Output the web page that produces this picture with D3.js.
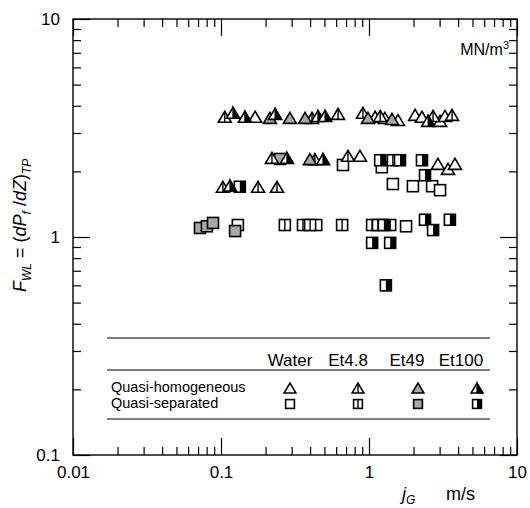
<!DOCTYPE html>
<html><head><meta charset="utf-8">
<script src="https://cdn.jsdelivr.net/npm/d3@7"></script>
<style>body{margin:0;background:#fff} text{font-family:"Liberation Sans",Arial,Helvetica,sans-serif;fill:#000}</style>
</head><body><svg id="c" width="530" height="508"></svg>
<script>
// ---- data ----
const xTickLabels = ["0.01", "0.1", "1", "10"];
const yTickLabels = ["0.1", "1", "10"];
const seriesNames = ["Water", "Et4.8", "Et49", "Et100"];
const regimeNames = ["Quasi-homogeneous", "Quasi-separated"];
const yUnit = "MN/m";
const xUnit = "m/s";

// Quasi-homogeneous (triangles)
const waterTriX = [0.170, 1.10, 1.28, 1.57, 2.05, 2.28, 3.02, 3.26, 0.869, 2.92, 3.42, 3.81];
const waterTriY = [3.52, 3.52, 3.48, 3.40, 3.59, 3.52, 3.37, 3.55, 2.33, 2.14, 2.03, 2.14];
const et48TriX  = [0.106, 0.412, 0.618, 0.910, 1.19, 2.71, 3.64, 0.221, 0.431, 0.721, 0.103, 0.178, 0.239];
const et48TriY  = [3.52, 3.48, 3.63, 3.67, 3.55, 3.55, 3.59, 2.28, 2.25, 2.33, 1.68, 1.68, 1.68];
const et49TriX  = [0.214, 0.292, 0.370, 0.984, 1.43, 0.399];
const et49TriY  = [3.48, 3.48, 3.48, 3.48, 3.44, 2.25];
const et100TriX = [0.1205, 0.145, 0.232, 0.452, 0.505, 2.51, 0.279, 0.489, 0.115];
const et100TriY = [3.67, 3.52, 3.63, 3.55, 3.55, 3.37, 2.28, 2.25, 1.70];

// Quasi-separated (squares)
const waterSqX = [0.130, 0.44, 1.78, 0.667, 1.22, 1.45, 1.98, 2.67, 3.02];
const waterSqY = [1.135, 1.135, 1.12, 2.14, 2.09, 1.75, 1.71, 1.71, 1.64];
const et48SqX  = [0.270, 0.358, 0.40, 0.658, 1.05, 1.15, 1.39, 1.45];
const et48SqY  = [1.135, 1.135, 1.135, 1.135, 1.135, 1.135, 1.135, 2.25];
const et49SqX  = [0.0721, 0.0803, 0.0883, 0.1245, 0.251];
const et49SqY  = [1.10, 1.12, 1.16, 1.065, 2.28];
const et100SqX = [1.26, 2.39, 2.71, 3.52, 1.05, 1.39, 1.30, 1.19, 1.62, 2.28, 2.39, 0.134];
const et100SqY = [1.135, 1.20, 1.076, 1.20, 0.94, 0.94, 0.60, 2.25, 2.25, 2.25, 1.92, 1.70];

// ---- layout ----
const L = 73, R = 517, T = 19, B = 455;
const svg = d3.select("#c");
const x = d3.scaleLog().domain([0.01, 10]).range([L, R]);
const y = d3.scaleLog().domain([0.1, 10]).range([B, T]);

const majX = xTickLabels.map(Number), majY = yTickLabels.map(Number);
const minX = x.ticks().filter(v => !majX.some(m => Math.abs(m - v) / m < 1e-6));
const minY = y.ticks().filter(v => !majY.some(m => Math.abs(m - v) / m < 1e-6));

function styleAxis(g) {
  g.select(".domain").remove();
  g.selectAll("line").attr("stroke", "#000").attr("stroke-width", 1.2);
  g.selectAll("text").style("font-size", "17px").attr("fill", "#000");
}
const MAJ = 17, MIN = 8;
svg.append("g").attr("transform", `translate(0,${B})`)
  .call(d3.axisBottom(x).tickValues(minX).tickSize(-MIN).tickFormat("")).call(styleAxis);
svg.append("g").attr("transform", `translate(0,${B})`)
  .call(d3.axisBottom(x).tickValues(majX).tickSize(-MAJ).tickPadding(11).tickFormat((d, i) => xTickLabels[i])).call(styleAxis);
svg.append("g").attr("transform", `translate(0,${T})`)
  .call(d3.axisTop(x).tickValues(minX).tickSize(-MIN).tickFormat("")).call(styleAxis);
svg.append("g").attr("transform", `translate(0,${T})`)
  .call(d3.axisTop(x).tickValues(majX).tickSize(-MAJ).tickFormat("")).call(styleAxis);
svg.append("g").attr("transform", `translate(${L},0)`)
  .call(d3.axisLeft(y).tickValues(minY).tickSize(-MIN).tickFormat("")).call(styleAxis);
svg.append("g").attr("transform", `translate(${L},0)`)
  .call(d3.axisLeft(y).tickValues(majY).tickSize(-MAJ).tickPadding(13).tickFormat((d, i) => yTickLabels[i])).call(styleAxis);
svg.append("g").attr("transform", `translate(${R},0)`)
  .call(d3.axisRight(y).tickValues(minY).tickSize(-MIN).tickFormat("")).call(styleAxis);
svg.append("g").attr("transform", `translate(${R},0)`)
  .call(d3.axisRight(y).tickValues(majY).tickSize(-MAJ).tickFormat("")).call(styleAxis);

svg.append("rect").attr("x", L).attr("y", T).attr("width", R - L).attr("height", B - T)
  .attr("fill", "none").attr("stroke", "#000").attr("stroke-width", 1.4);

// ---- marker drawing ----
const GRAY = "#a8a8a8";
function triangle(g, kind, s) {
  const w = 13 * s, h = 11 * s, top = -h * 0.6, bot = h * 0.4;
  const pts = `0,${top} ${w / 2},${bot} ${-w / 2},${bot}`;
  g.append("polygon").attr("points", pts)
    .attr("fill", kind === 2 ? GRAY : "#fff").attr("stroke", "#000").attr("stroke-width", 1.6);
  if (kind === 1) g.append("line").attr("x1", 0).attr("x2", 0).attr("y1", top).attr("y2", bot).attr("stroke", "#000").attr("stroke-width", 1.4);
  if (kind === 3) g.append("polygon").attr("points", `0,${top} ${w / 2},${bot} 0,${bot}`).attr("fill", "#000").attr("stroke", "#000").attr("stroke-width", 1.2);
}
function square(g, kind, s) {
  const a = 5.5 * s;
  g.append("rect").attr("x", -a).attr("y", -a).attr("width", 2 * a).attr("height", 2 * a)
    .attr("fill", kind === 2 ? GRAY : "#fff").attr("stroke", "#000").attr("stroke-width", 1.6);
  if (kind === 1) g.append("line").attr("x1", 0).attr("x2", 0).attr("y1", -a).attr("y2", a).attr("stroke", "#000").attr("stroke-width", 1.4);
  if (kind === 3) g.append("rect").attr("x", 0).attr("y", -a).attr("width", a).attr("height", 2 * a).attr("fill", "#000");
}

const triSeries = [[waterTriX, waterTriY], [et48TriX, et48TriY], [et49TriX, et49TriY], [et100TriX, et100TriY]];
const sqSeries = [[waterSqX, waterSqY], [et48SqX, et48SqY], [et49SqX, et49SqY], [et100SqX, et100SqY]];

const marks = svg.append("g");
sqSeries.forEach(([xs, ys], k) => {
  xs.forEach((v, i) => square(marks.append("g").attr("transform", `translate(${x(v)},${y(ys[i])})`), k, 1));
});
triSeries.forEach(([xs, ys], k) => {
  xs.forEach((v, i) => triangle(marks.append("g").attr("transform", `translate(${x(v)},${y(ys[i])})`), k, 1));
});

// ---- legend ----
const lg = svg.append("g");
[338, 370, 419].forEach(yy => lg.append("line").attr("x1", 107).attr("x2", 490).attr("y1", yy).attr("y2", yy)
  .attr("stroke", "#000").attr("stroke-width", 1.2));
const headX = [290, 348, 407, 461];
const symX = [290, 358, 418, 477];
seriesNames.forEach((n, i) => lg.append("text").attr("x", headX[i]).attr("y", 366)
  .attr("text-anchor", "middle").style("font-size", "17px").text(n));
lg.append("text").attr("x", 111).attr("y", 392).style("font-size", "14.5px").text(regimeNames[0]);
lg.append("text").attr("x", 111).attr("y", 408).style("font-size", "14.5px").text(regimeNames[1]);
seriesNames.forEach((n, i) => {
  triangle(lg.append("g").attr("transform", `translate(${symX[i]},389)`), i, 0.9);
  square(lg.append("g").attr("transform", `translate(${symX[i]},404)`), i, 0.8);
});

// ---- axis titles ----
const ut = svg.append("text").attr("x", 509).attr("y", 55).attr("text-anchor", "end").style("font-size", "16px");
ut.append("tspan").text(yUnit);
ut.append("tspan").style("font-size", "11px").attr("dy", -6).text("3");

const xl = svg.append("text").attr("x", 402).attr("y", 500).style("font-size", "18px");
xl.append("tspan").style("font-style", "italic").text("j");
xl.append("tspan").style("font-style", "italic").style("font-size", "12px").attr("dy", 4).text("G");
xl.append("tspan").attr("x", 446).attr("dy", -4).text(xUnit);

const yl = svg.append("text").attr("transform", "translate(26,292) rotate(-90)").style("font-size", "18px");
yl.append("tspan").style("font-style", "italic").text("F");
yl.append("tspan").style("font-size", "12px").style("font-style", "italic").attr("dy", 5).text("WL");
yl.append("tspan").attr("dy", -5).text(" = (");
yl.append("tspan").style("font-style", "italic").text("dP");
yl.append("tspan").style("font-size", "12px").style("font-style", "italic").attr("dy", 5).text("f");
yl.append("tspan").attr("dy", -5).text(" /");
yl.append("tspan").style("font-style", "italic").text("dZ");
yl.append("tspan").text(")");
yl.append("tspan").style("font-size", "12px").style("font-style", "italic").attr("dy", 5).text("TP");
</script></body></html>
